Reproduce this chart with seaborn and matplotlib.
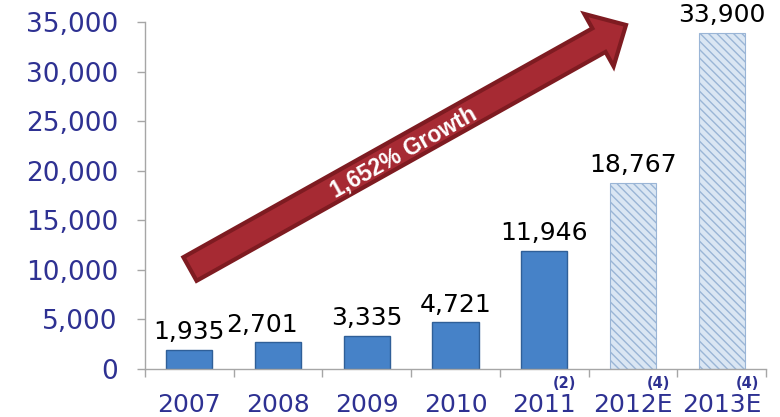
import matplotlib
matplotlib.use("Agg")
import matplotlib.pyplot as plt
import seaborn as sns
import pandas as pd
import numpy as np
from matplotlib.patches import FancyArrow
from matplotlib.transforms import IdentityTransform
from matplotlib.ticker import FuncFormatter

# ---- data ----
years = ["2007", "2008", "2009", "2010", "2011", "2012E", "2013E"]
values = [1935, 2701, 3335, 4721, 11946, 18767, 33900]
estimate = [False, False, False, False, False, True, True]
footnotes = ["", "", "", "", "(2)", "(4)", "(4)"]
yticks = [0, 5000, 10000, 15000, 20000, 25000, 30000, 35000]
arrow_label = "1,652% Growth"

# label nudges (points) to mimic the reference layout
label_dx = [0, -11.5, 0, 0, 0, 0, 0]
foot_dx = [0, 0, 0, 0, 14.5, 18.5, 18.5]

sns.set_theme(style="white")
plt.rcParams['font.family'] = ['DejaVu Sans']
plt.rcParams['hatch.linewidth'] = 1.0

W, H = 780, 417
fig = plt.figure(figsize=(W / 100, H / 100), dpi=100)
ax = fig.add_axes([145 / W, 48 / H, 621 / W, 347 / H])

df = pd.DataFrame({"year": years, "value": values})
palette = ["#DAE6F3" if e else "#4682C8" for e in estimate]
sns.barplot(data=df, x="year", y="value", hue="year", palette=palette,
            legend=False, width=0.52, saturation=1, ax=ax)

for p, est in zip(ax.patches, estimate):
    if est:
        p.set_hatch('\\\\\\\\')
        p.set_edgecolor('#9AB5D6')
        p.set_linewidth(0.8)
    else:
        p.set_edgecolor('#2F5F98')
        p.set_linewidth(1.0)

ax.set_xlim(-0.5, len(years) - 0.5)
ax.set_ylim(0, 35000)
ax.set_yticks(yticks)
ax.yaxis.set_major_formatter(FuncFormatter(lambda v, _: f"{int(v):,}"))
ax.set_xlabel("")
ax.set_ylabel("")

sns.despine(ax=ax)
for s in ("left", "bottom"):
    ax.spines[s].set_color("#A6A6A6")
    ax.spines[s].set_linewidth(1.0)

blue = "#2E3192"
ax.tick_params(axis='y', left=True, length=6, width=1, color="#A6A6A6",
               labelsize=19, labelcolor=blue, pad=13.5)
ax.tick_params(axis='x', which='major', bottom=False, length=0,
               labelsize=18, labelcolor=blue, pad=17)
ax.set_xticks(np.arange(-0.5, len(years), 1), minor=True)
ax.tick_params(axis='x', which='minor', bottom=True, length=6, width=1,
               color="#A6A6A6")

for i, v in enumerate(values):
    ax.annotate(f"{v:,}", (i, v), xytext=(label_dx[i], 4),
                textcoords='offset points', ha='center', va='bottom',
                fontsize=18, color='black', annotation_clip=False)

for i, fn in enumerate(footnotes):
    if fn:
        ax.annotate(fn, (i, 0), xytext=(foot_dx[i], -10.5), textcoords='offset points',
                    ha='center', va='center', fontsize=10.5, fontweight='bold',
                    color=blue, annotation_clip=False)

# growth arrow (display pixels, origin bottom-left)
x0, y0 = 190, H - 269
x1, y1 = 626, H - 25
arrow = FancyArrow(x0, y0, x1 - x0, y1 - y0, width=27, head_width=60,
                   head_length=31, length_includes_head=True,
                   transform=IdentityTransform(), facecolor="#A62A33",
                   edgecolor="#7E1B21", linewidth=3, zorder=5, clip_on=False)
fig.add_artist(arrow)
ang = np.degrees(np.arctan2(y1 - y0, x1 - x0))
fig.text(404 / W, (H - 152) / H, arrow_label, rotation=ang,
         rotation_mode='anchor', ha='center', va='center', color='white',
         fontweight='bold', fontsize=16.5, family=['Liberation Sans', 'DejaVu Sans'],
         zorder=6)

fig.savefig("out.png", dpi=100)
